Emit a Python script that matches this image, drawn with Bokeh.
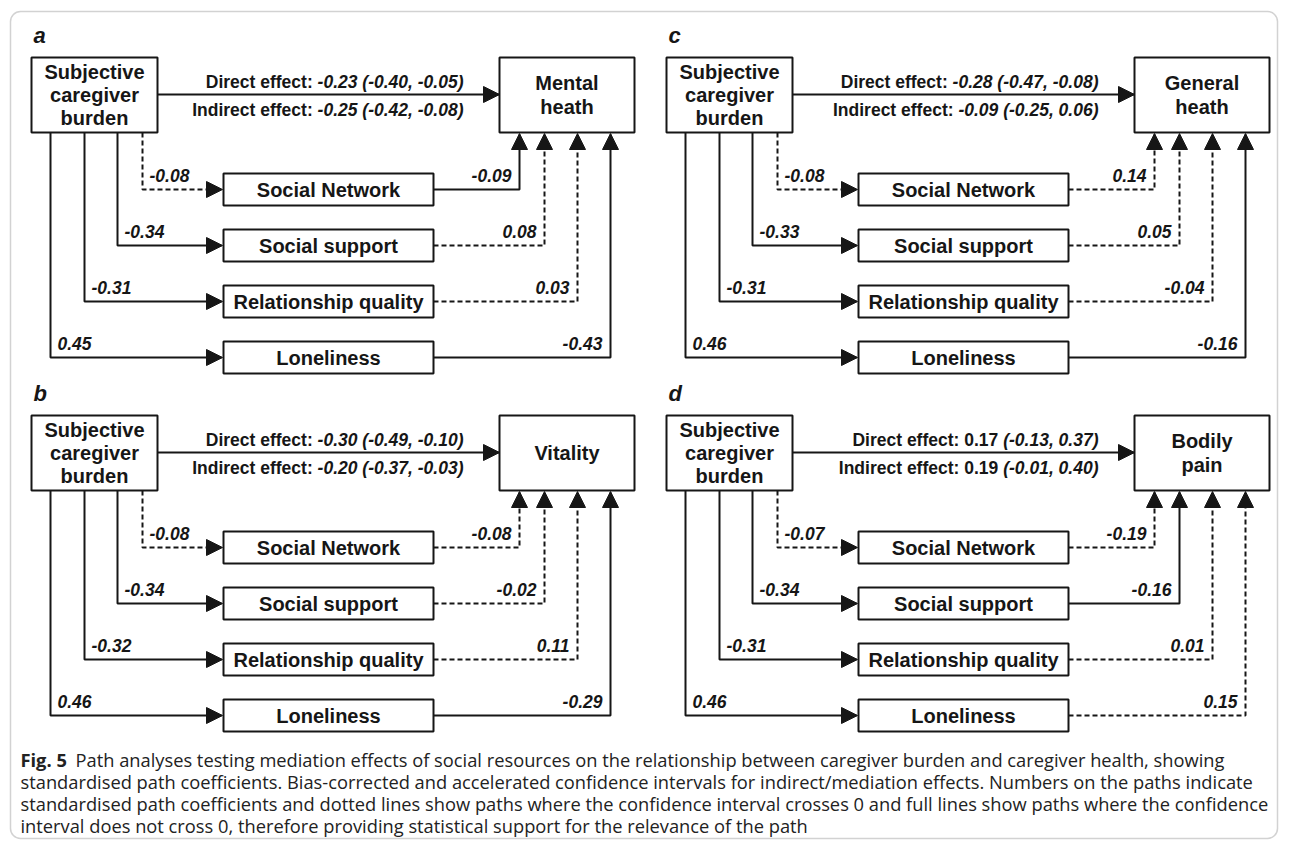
from bokeh.plotting import figure
from bokeh.models import Range1d, ColumnDataSource, Arrow, NormalHead, BoxAnnotation
from bokeh.core.properties import value
from bokeh.embed import file_html
from bokeh.resources import INLINE

# ---------------- data ----------------
panel_letters = ["a", "b", "c", "d"]
source_lines = ["Subjective", "caregiver", "burden"]
outcome_lines = [["Mental", "heath"], ["Vitality"], ["General", "heath"], ["Bodily", "pain"]]
mediators = ["Social Network", "Social support", "Relationship quality", "Loneliness"]

direct_est = [-0.23, -0.30, -0.28, 0.17]
direct_lo = [-0.40, -0.49, -0.47, -0.13]
direct_hi = [-0.05, -0.10, -0.08, 0.37]
indirect_est = [-0.25, -0.20, -0.09, 0.19]
indirect_lo = [-0.42, -0.37, -0.25, -0.01]
indirect_hi = [-0.08, -0.03, 0.06, 0.40]
estimate_italic = [True, True, True, False]

# burden -> mediator (a paths), mediator -> outcome (b paths)
a_paths_a = [-0.08, -0.34, -0.31, 0.45]
a_paths_b = [-0.08, -0.34, -0.32, 0.46]
a_paths_c = [-0.08, -0.33, -0.31, 0.46]
a_paths_d = [-0.07, -0.34, -0.31, 0.46]
b_paths_a = [-0.09, 0.08, 0.03, -0.43]
b_paths_b = [-0.08, -0.02, 0.11, -0.29]
b_paths_c = [0.14, 0.05, -0.04, -0.16]
b_paths_d = [-0.19, -0.16, 0.01, 0.15]
# True = CI does not cross 0 (full line), False = dotted line
a_sig_a = [False, True, True, True]
a_sig_b = [False, True, True, True]
a_sig_c = [False, True, True, True]
a_sig_d = [False, True, True, True]
b_sig_a = [True, False, False, True]
b_sig_b = [False, False, False, True]
b_sig_c = [False, False, False, True]
b_sig_d = [False, True, False, False]

a_paths = [a_paths_a, a_paths_b, a_paths_c, a_paths_d]
b_paths = [b_paths_a, b_paths_b, b_paths_c, b_paths_d]
a_sig = [a_sig_a, a_sig_b, a_sig_c, a_sig_d]
b_sig = [b_sig_a, b_sig_b, b_sig_c, b_sig_d]

caption_bold = "Fig. 5"
caption_lines = [
    "Path analyses testing mediation effects of social resources on the relationship between caregiver burden and caregiver health, showing",
    "standardised path coefficients. Bias-corrected and accelerated confidence intervals for indirect/mediation effects. Numbers on the paths indicate",
    "standardised path coefficients and dotted lines show paths where the confidence interval crosses 0 and full lines show paths where the confidence",
    "interval does not cross 0, therefore providing statistical support for the relevance of the path",
]

# ---------------- layout (pixels of the page) ----------------
W, H = 1279, 840
PANEL_DX = [0, 0, 635, 635]
PANEL_DY = [0, 358, 0, 358]
SRC = (31, 157, 57, 132)
TGT = (499, 634, 57, 132)
MED_X = (223, 433)
MED_Y = [189, 245, 301, 357]
MED_H = 32
LEFT_X = [142, 117, 84, 50]
RIGHT_X = [519, 544, 577, 610]
DIRECT_Y = 94
TXT_END = 463
FS_EFF = 17.5
FS_BOX = 20
FS_CAP = 18.3

INK = "#161616"

p = figure(width=W, height=H, x_range=Range1d(0, W), y_range=Range1d(H, 0),
           output_backend="svg", toolbar_location=None, min_border=0,
           background_fill_color="white", border_fill_color="white")
p.xaxis.visible = False
p.yaxis.visible = False
p.grid.visible = False
p.outline_line_color = None

# outer rounded frame
p.add_layout(BoxAnnotation(left=10, right=W - 2, top=11, bottom=H - 2,
                           fill_alpha=0, line_color="#6a6a6a", line_width=1.5,
                           border_radius=10))

# Arial Bold advance widths (per 1000 em) for the number glyphs
CW = {c: 556 for c in "0123456789"}
CW.update({"-": 333, ".": 278, ",": 278, "(": 333, ")": 333, " ": 278})


def twidth(s, fs):
    return sum(CW.get(c, 556) for c in s) * fs / 1000.0


def fmt(v):
    return f"{v:.2f}"


def effect_parts(name, est, lo, hi, est_it):
    ci = f"({fmt(lo)}, {fmt(hi)})"
    if est_it:
        return f"{name}:", f"{fmt(est)} {ci}"
    return f"{name}: {fmt(est)}", ci


boxes = dict(l=[], r=[], t=[], b=[])
box_txt = dict(x=[], y=[], t=[])
solid = dict(xs=[], ys=[])
dashed = dict(xs=[], ys=[])
heads = dict(x0=[], y0=[], x1=[], y1=[])
plain = dict(x=[], y=[], t=[])
ital = dict(x=[], y=[], t=[])
lab_l = dict(x=[], y=[], t=[])
lab_r = dict(x=[], y=[], t=[])
letters = dict(x=[], y=[], t=[])

for k in range(4):
    dx, dy = PANEL_DX[k], PANEL_DY[k]
    letters["x"].append(33 + dx); letters["y"].append(35 + dy); letters["t"].append(panel_letters[k])
    # source / target boxes
    for (l, r, t, b) in (SRC, TGT):
        boxes["l"].append(l + dx); boxes["r"].append(r + dx)
        boxes["t"].append(t + dy); boxes["b"].append(b + dy)
    cx = (SRC[0] + SRC[1]) / 2 + dx
    cy = (SRC[2] + SRC[3]) / 2 + dy
    for j, s in enumerate(source_lines):
        box_txt["x"].append(cx); box_txt["y"].append(cy + (j - 1) * 23); box_txt["t"].append(s)
    cx = (TGT[0] + TGT[1]) / 2 + dx
    n = len(outcome_lines[k])
    for j, s in enumerate(outcome_lines[k]):
        box_txt["x"].append(cx); box_txt["y"].append(cy + (j - (n - 1) / 2) * 24); box_txt["t"].append(s)
    # direct arrow
    solid["xs"].append([SRC[1] + dx, TGT[0] + dx]); solid["ys"].append([DIRECT_Y + dy] * 2)
    heads["x0"].append(TGT[0] - 20 + dx); heads["y0"].append(DIRECT_Y + dy)
    heads["x1"].append(TGT[0] + dx); heads["y1"].append(DIRECT_Y + dy)
    # effect texts
    for (name, est, lo, hi, yy) in (("Direct effect", direct_est[k], direct_lo[k], direct_hi[k], 81),
                                    ("Indirect effect", indirect_est[k], indirect_lo[k], indirect_hi[k], 109)):
        pt, it = effect_parts(name, est, lo, hi, estimate_italic[k])
        xe = TXT_END + dx
        xs_ = xe - twidth(it, FS_EFF)
        ital["x"].append(xs_); ital["y"].append(yy + dy); ital["t"].append(it)
        plain["x"].append(xs_ - twidth(" ", FS_EFF)); plain["y"].append(yy + dy); plain["t"].append(pt)
    # mediators
    for i in range(4):
        yc = MED_Y[i] + dy
        boxes["l"].append(MED_X[0] + dx); boxes["r"].append(MED_X[1] + dx)
        boxes["t"].append(yc - MED_H / 2); boxes["b"].append(yc + MED_H / 2)
        box_txt["x"].append((MED_X[0] + MED_X[1]) / 2 + dx); box_txt["y"].append(yc); box_txt["t"].append(mediators[i])
        # a path
        xl = LEFT_X[i] + dx
        tgt = solid if a_sig[k][i] else dashed
        tgt["xs"].append([xl, xl, MED_X[0] + dx - 2]); tgt["ys"].append([SRC[3] + dy, yc, yc])
        heads["x0"].append(MED_X[0] + dx - 20); heads["y0"].append(yc)
        heads["x1"].append(MED_X[0] + dx - 1); heads["y1"].append(yc)
        lab_l["x"].append(xl + 7); lab_l["y"].append(yc - 14); lab_l["t"].append(fmt(a_paths[k][i]))
        # b path
        xr = RIGHT_X[i] + dx
        tgt = solid if b_sig[k][i] else dashed
        tgt["xs"].append([MED_X[1] + dx, xr, xr]); tgt["ys"].append([yc, yc, TGT[3] + dy + 2])
        heads["x0"].append(xr); heads["y0"].append(TGT[3] + dy + 20)
        heads["x1"].append(xr); heads["y1"].append(TGT[3] + dy + 1)
        lab_r["x"].append(xr - 8); lab_r["y"].append(yc - 14); lab_r["t"].append(fmt(b_paths[k][i]))

p.multi_line(xs="xs", ys="ys", source=ColumnDataSource(solid), line_color=INK, line_width=2)
p.multi_line(xs="xs", ys="ys", source=ColumnDataSource(dashed), line_color=INK, line_width=2,
             line_dash="5 3")
p.quad(left="l", right="r", top="t", bottom="b", source=ColumnDataSource(boxes),
       fill_color="white", line_color=INK, line_width=2)
p.add_layout(Arrow(end=NormalHead(size=16, fill_color=INK, line_color=INK, line_width=1),
                   source=ColumnDataSource(heads), x_start="x0", y_start="y0",
                   x_end="x1", y_end="y1", line_alpha=0))

FONT = value("Liberation Sans")
p.text(x="x", y="y", text="t", source=ColumnDataSource(box_txt), text_font=FONT,
       text_font_size=f"{FS_BOX}px", text_font_style="bold", text_align="center",
       text_baseline="middle", text_color=INK)
p.text(x="x", y="y", text="t", source=ColumnDataSource(plain), text_font=FONT,
       text_font_size=f"{FS_EFF}px", text_font_style="bold", text_align="right",
       text_baseline="middle", text_color=INK)
p.text(x="x", y="y", text="t", source=ColumnDataSource(ital), text_font=FONT,
       text_font_size=f"{FS_EFF}px", text_font_style="bold italic", text_align="left",
       text_baseline="middle", text_color=INK)
p.text(x="x", y="y", text="t", source=ColumnDataSource(lab_l), text_font=FONT,
       text_font_size=f"{FS_EFF}px", text_font_style="bold italic", text_align="left",
       text_baseline="middle", text_color=INK)
p.text(x="x", y="y", text="t", source=ColumnDataSource(lab_r), text_font=FONT,
       text_font_size=f"{FS_EFF}px", text_font_style="bold italic", text_align="right",
       text_baseline="middle", text_color=INK)
p.text(x="x", y="y", text="t", source=ColumnDataSource(letters), text_font=FONT,
       text_font_size="22px", text_font_style="bold italic", text_align="left",
       text_baseline="middle", text_color=INK)

# caption
CAP_FONT = value("Open Sans")
cap_y = [759, 781, 803, 825]
p.text(x=[20], y=[cap_y[0]], text=[caption_bold], text_font=CAP_FONT,
       text_font_size=f"{FS_CAP}px", text_font_style="bold", text_baseline="middle",
       text_color="#222222")
p.text(x=[75] + [20] * 3, y=cap_y, text=caption_lines, text_font=CAP_FONT,
       text_font_size=f"{FS_CAP}px", text_baseline="middle", text_color="#222222")

open("out.html", "w").write(file_html(p, INLINE))
